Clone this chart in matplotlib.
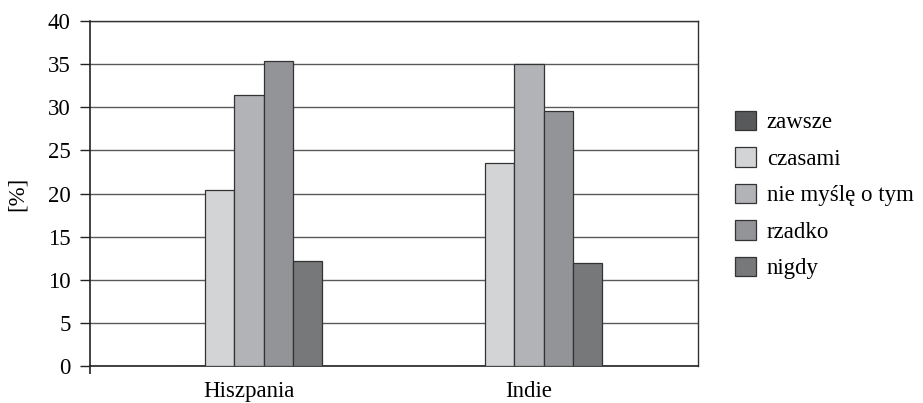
import matplotlib
matplotlib.use("Agg")
import matplotlib.pyplot as plt
import numpy as np

countries = ["Hiszpania", "Indie"]
series = ["zawsze", "czasami", "nie myślę o tym", "rzadko", "nigdy"]
values = {
    "zawsze": [0.0, 0.0],
    "czasami": [20.4, 23.5],
    "nie myślę o tym": [31.4, 35.0],
    "rzadko": [35.4, 29.6],
    "nigdy": [12.2, 11.9],
}
colors = ["#58595b", "#d3d4d6", "#b2b3b6", "#939497", "#77787a"]
yticks = [0, 5, 10, 15, 20, 25, 30, 35, 40]

plt.rcParams["font.family"] = ["Liberation Serif", "DejaVu Serif"]
FS = 16.5

W, H = 923, 403
fig = plt.figure(figsize=(W / 100, H / 100), dpi=100)
ax = fig.add_axes([90 / W, (H - 366) / H, (698 - 90) / W, (366 - 21) / H])

bar_w = 0.105
x = np.arange(len(countries))
offsets = (np.arange(len(series)) - 2) * bar_w
handles = []
for i, (name, col) in enumerate(zip(series, colors)):
    b = ax.bar(x + offsets[i], values[name], width=bar_w, color=col,
               edgecolor="#333333", linewidth=0.9, zorder=3, label=name)
    handles.append(b)

ax.set_xlim(-0.568, 1.604)
ax.set_ylim(0, 40)
ax.set_yticks(yticks)
ax.yaxis.grid(True, color="#5a5a5a", linewidth=1.0, zorder=0)
ax.set_axisbelow(True)

for s in ["top", "right"]:
    ax.spines[s].set_color("#333333")
    ax.spines[s].set_linewidth(1.0)
for s in ["left", "bottom"]:
    ax.spines[s].set_color("#222222")
    ax.spines[s].set_linewidth(1.2)

ax.set_xticks(x)
ax.set_xticklabels(countries, fontsize=FS)
ax.tick_params(axis="x", length=0, pad=11)
ax.set_xticks([-0.568], minor=True)
ax.tick_params(axis="x", which="minor", length=6, width=1.2, color="#222222", direction="out")
ax.tick_params(axis="y", length=7, width=1.0, color="#222222", labelsize=FS, pad=7)
ax.set_ylabel("[%]", fontsize=FS, labelpad=14)

fig.legend(handles=handles, labels=series, loc="center left",
           bbox_to_anchor=(714 / W, 1 - 195 / H), frameon=False,
           fontsize=FS, handlelength=0.95, handleheight=0.95,
           handletextpad=0.45, labelspacing=0.6)

fig.savefig("out.png", dpi=100)
